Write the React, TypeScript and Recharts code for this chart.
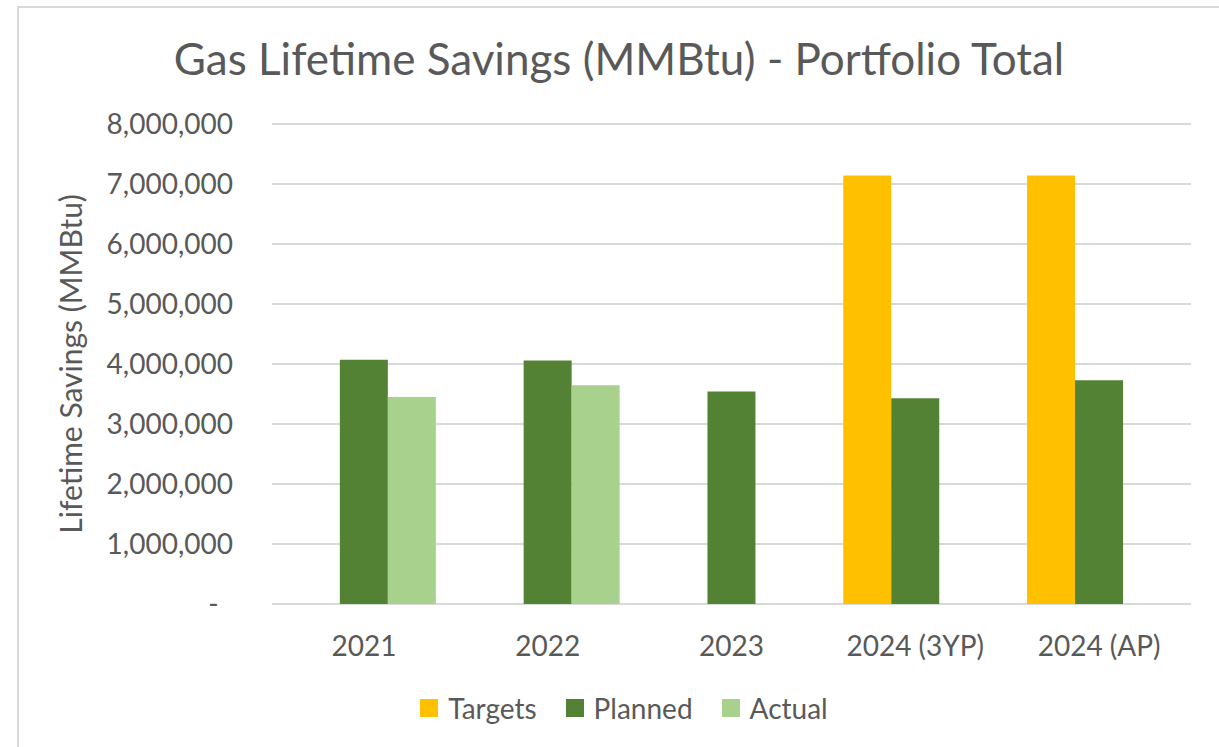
import React from 'react';
import { BarChart, Bar, XAxis, YAxis, CartesianGrid, Legend } from 'recharts';

const categories = ['2021', '2022', '2023', '2024 (3YP)', '2024 (AP)'];
const seriesNames = ['Targets', 'Planned', 'Actual'];
const targets = [null, null, null, 7140000, 7140000];
const planned = [4070000, 4060000, 3540000, 3430000, 3730000];
const actual = [3450000, 3645000, null, null, null];
const yTicks = [0, 1000000, 2000000, 3000000, 4000000, 5000000, 6000000, 7000000, 8000000];

const FONT = 'Lato, "Open Sans", sans-serif';
const TEXT = '#595959';
const GRID = '#D9D9D9';

const data = categories.map((name, i) => ({
  name,
  Targets: targets[i],
  Planned: planned[i],
  Actual: actual[i],
}));

const fmt = (v: number) => (v === 0 ? '-\u00A0\u00A0' : v.toLocaleString('en-US'));

// rotated axis title, placed relative to the y-axis box
const YLabel = (props: any) => {
  const vb = props.viewBox || { x: 0, y: 0, width: 0, height: 0 };
  const cx = vb.x + 82;
  const cy = vb.y + vb.height / 2;
  return (
    <text
      x={0}
      y={0}
      transform={`translate(${cx},${cy}) rotate(-90)`}
      textAnchor="middle"
      fill={TEXT}
      fontSize={30}
      fontFamily={FONT}
    >
      Lifetime Savings (MMBtu)
    </text>
  );
};

const LegendBox = (props: any) => {
  const items = [...(props.payload || [])].sort(
    (a: any, b: any) => seriesNames.indexOf(a.value) - seriesNames.indexOf(b.value)
  );
  return (
    <div style={{ display: 'flex', justifyContent: 'center', fontFamily: FONT }}>
      {items.map((it: any, i: number) => (
        <div
          key={it.value}
          style={{ display: 'flex', alignItems: 'center', marginLeft: i === 0 ? 0 : 29 }}
        >
          <span style={{ width: 18, height: 18, background: it.color, display: 'inline-block' }} />
          <span style={{ marginLeft: 10, fontSize: 28, lineHeight: '28px', color: TEXT }}>{it.value}</span>
        </div>
      ))}
    </div>
  );
};

export default function App() {
  return (
    <div
      style={{
        position: 'fixed',
        left: 0,
        top: 0,
        width: 1219,
        height: 747,
        overflow: 'hidden',
        background: '#fff',
      }}
    >
      <div
        style={{
          position: 'absolute',
          left: 17,
          top: 6,
          width: 1260,
          height: 800,
          border: `2px solid ${GRID}`,
        }}
      />
      <svg width={1219} height={100} style={{ position: 'absolute', left: 0, top: 0 }}>
        <text x={619} y={75} textAnchor="middle" fontSize={44} fontFamily={FONT} fill={TEXT}>
          Gas Lifetime Savings (MMBtu) - Portfolio Total
        </text>
      </svg>
      <div style={{ position: 'absolute', left: 0, top: 0 }}>
        <BarChart
          width={1219}
          height={747}
          data={data}
          margin={{ top: 124, right: 28, left: 0, bottom: 93 }}
          barCategoryGap="10.8%"
          barGap={0}
        >
          <CartesianGrid vertical={false} stroke={GRID} strokeWidth={2} />
          <XAxis
            dataKey="name"
            height={50}
            axisLine={false}
            tickLine={false}
            tickSize={0}
            tickMargin={32}
            tick={{ fill: TEXT, fontSize: 28, fontFamily: FONT }}
            interval={0}
          />
          <YAxis
            width={272}
            domain={[0, 8000000]}
            ticks={yTicks}
            tickFormatter={fmt}
            axisLine={false}
            tickLine={false}
            tickSize={0}
            tickMargin={39}
            tick={{ fill: TEXT, fontSize: 28, fontFamily: FONT }}
            label={{ content: YLabel }}
          />
          <Legend
            layout="horizontal"
            verticalAlign="middle"
            align="center"
            content={LegendBox}
            wrapperStyle={{ top: 694, left: 0, width: 1248 }}
          />
          <Bar dataKey="Targets" fill="#FFC000" isAnimationActive={false} />
          <Bar dataKey="Planned" fill="#548235" isAnimationActive={false} />
          <Bar dataKey="Actual" fill="#A9D18E" isAnimationActive={false} />
        </BarChart>
      </div>
    </div>
  );
}
